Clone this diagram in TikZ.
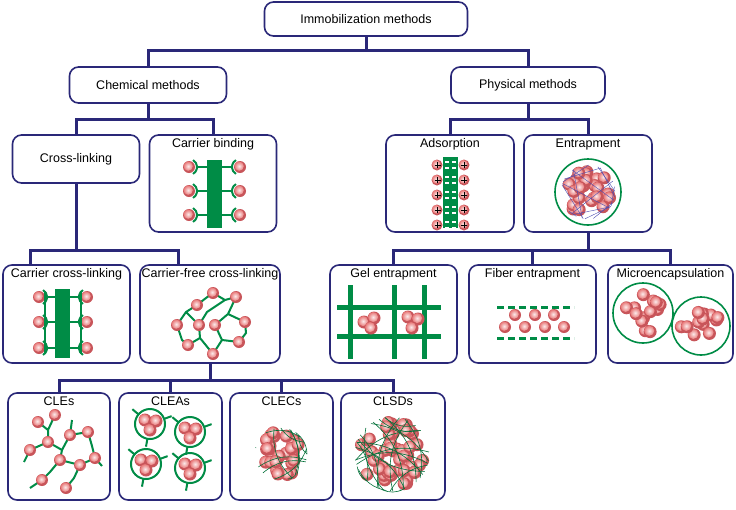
\documentclass[tikz,border=0pt]{standalone}
\usepackage{fontspec}
\setmainfont{Liberation Sans}
\usetikzlibrary{positioning,calc}
\definecolor{navy}{RGB}{42,40,120}
\definecolor{grn}{RGB}{0,140,70}
\definecolor{enzpink}{RGB}{232,120,120}
\definecolor{enzdark}{RGB}{200,85,90}
\newcommand\enzyme[2][6pt]{\fill[enzdark] #2 circle (#1);
    \shade[inner color=white!85!enzpink,outer color=enzpink] #2 ++(135:0.2*#1) circle (0.78*#1);}
% cup opening to the right / left, stem out to #3
\newcommand\cupR[3]{\draw[link] (#1,#2) ++(-60:8pt) arc (-60:60:8pt); \draw[link] (#1,#2) ++(8pt,0) -- (#3,#2);}
\newcommand\cupL[3]{\draw[link] (#1,#2) ++(120:8pt) arc (120:240:8pt); \draw[link] (#1,#2) ++(-8pt,0) -- (#3,#2);}
\begin{document}
\begin{tikzpicture}[x=1pt,y=-1pt,font=\fontsize{12.5}{14}\selectfont,
    box/.style={draw=navy,line width=1.6pt,rounded corners=9pt,fill=white},
    pic/.style={box,label={[anchor=north,inner sep=4pt]north:#1}},
    tree/.style={draw=navy,line width=3pt},
    link/.style={draw=grn,line width=2pt},
    fine/.style={draw=grn!80!black,line width=0.6pt}]
    \useasboundingbox (0,0) rectangle (736,509);

    % boxes
    \node [box,minimum width=203pt,minimum height=34pt] (imm) at (366,19) {Immobilization methods};
    \node [box,minimum width=157pt,minimum height=36pt] (chem) at (148,85) {Chemical methods};
    \node [box,minimum width=154pt,minimum height=36pt] (phys) at (528,85) {Physical methods};
    \node [box,minimum width=127pt,minimum height=48pt] (cross) at (76,159) {Cross-linking};
    \node [pic=Carrier binding,minimum width=127pt,minimum height=97pt] (bind) at (213,183.5) {};
    \node [pic=Adsorption,minimum width=128pt,minimum height=97pt] (ads) at (450,183.5) {};
    \node [pic=Entrapment,minimum width=128pt,minimum height=97pt] (ent) at (588,183.5) {};
    \node [pic=Carrier cross-linking,minimum width=127pt,minimum height=98pt] (ccl) at (66.5,314) {};
    \node [pic=Carrier-free cross-linking,minimum width=140pt,minimum height=98pt] (cfcl) at (210,314) {};
    \node [pic=Gel entrapment,minimum width=127pt,minimum height=98pt] (gel) at (393.5,314) {};
    \node [pic=Fiber entrapment,minimum width=127pt,minimum height=98pt] (fib) at (532.5,314) {};
    \node [pic=Microencapsulation,minimum width=125pt,minimum height=98pt] (mic) at (670.5,314) {};
    \node [pic=CLEs,minimum width=102pt,minimum height=107pt] (cles) at (59,446.5) {};
    \node [pic=CLEAs,minimum width=103pt,minimum height=107pt] (cleas) at (170.5,446.5) {};
    \node [pic=CLECs,minimum width=103pt,minimum height=107pt] (clecs) at (281.5,446.5) {};
    \node [pic=CLSDs,minimum width=104pt,minimum height=107pt] (clsds) at (393,446.5) {};

    % tree
    \draw [tree] (imm.south) -- ++(0,14) -| (chem.north);
    \draw [tree] (imm.south) -- ++(0,14) -| (phys.north);
    \draw [tree] (chem.south) -- ++(0,16) -| (cross.north);
    \draw [tree] (chem.south) -- ++(0,16) -| (bind.north);
    \draw [tree] (phys.south) -- ++(0,16) -| (ads.north);
    \draw [tree] (phys.south) -- ++(0,16) -| (ent.north);
    \draw [tree] (cross.south) -- ++(0,67) -| ([xshift=-36pt]ccl.north);
    \draw [tree] (cross.south) -- ++(0,67) -| ([xshift=-32pt]cfcl.north);
    \draw [tree] (ent.south) -- ++(0,18) -| (gel.north);
    \draw [tree] (ent.south) -- ++(0,18) -| (fib.north);
    \draw [tree] (ent.south) -- ++(0,18) -| (mic.north);
    \foreach \n in {cles,cleas,clecs,clsds}
        \draw [tree] (cfcl.south) -- ++(0,17) -| (\n.north);

    % carrier binding
    \fill [grn] (207,160) rectangle (222,228);
    \foreach \y in {167,191,215} {
        \cupR{189}{\y}{207} \cupL{240}{\y}{222}
        \enzyme{(189,\y)} \enzyme{(240,\y)}
    }

    % carrier cross-linking
    \fill [grn] (55,289) rectangle (70,358);
    \foreach \y in {297,322,348} {
        \cupR{39}{\y}{55} \cupL{87}{\y}{70}
        \enzyme{(39,\y)} \enzyme{(87,\y)}
    }
    \draw [link] (45,291) -- (45,354) (81,291) -- (81,354);

    % carrier-free cross-linking
    \draw [link] (197,305) -- (206,298) -- (213,293) (213,293) -- (225,300) -- (236,297)
        (177,325) -- (186,312) -- (197,305) (199,325) -- (207,312) -- (225,300)
        (215,325) -- (228,314) -- (245,322) (177,325) -- (182,340) -- (188,345)
        (188,345) -- (200,338) -- (199,325) (215,325) -- (222,340) -- (239,342)
        (239,342) -- (246,333) -- (245,322) (213,354) -- (222,340)
        (213,354) -- (200,338) (228,314) -- (236,297) (186,312) -- (199,325);
    \foreach \p in {(213,293),(236,297),(197,305),(177,325),(199,325),(215,325),
                    (245,322),(188,345),(239,342),(213,354)}
        {\enzyme{\p}}

    % adsorption
    \fill [grn] (443,157) rectangle (458,228);
    \foreach \y in {165,180,195,210,225} {
        \draw [white,line width=1.3pt] (445,\y-3) -- (449,\y-3) (452,\y-3) -- (456,\y-3)
            (445,\y+3) -- (449,\y+3) (452,\y+3) -- (456,\y+3);
        \enzyme[5.5pt]{(437,\y)} \enzyme[5.5pt]{(464,\y)}
        \draw [line width=0.8pt] (437.5,\y-3) -- (437.5,\y+3) (434.5,\y) -- (440.5,\y)
            (464,\y-3) -- (464,\y+3) (461,\y) -- (467,\y);
    }

    % entrapment
    \draw [grn,line width=1.6pt] (588,192) circle (33pt);
    \pgfmathsetseed{7}
    \foreach \i in {1,...,24} {
        \pgfmathsetmacro\a{rnd*360}\pgfmathsetmacro\r{sqrt(rnd)*23}
        \enzyme[6.5pt]{($(588,192)+(\a:\r pt)$)}
    }
    \foreach \i in {1,...,14} {
        \pgfmathsetmacro\a{rnd*360}\pgfmathsetmacro\b{rnd*360}
        \draw [gray!60!blue,line width=0.4pt] ($(588,192)+(\a:27pt)$) -- ($(588,192)+(\b:27pt)$);
    }

    % gel entrapment
    \draw [grn,line width=5pt] (350,285) -- (350,359) (394,285) -- (394,359) (424,285) -- (424,359)
        (337,307) -- (441,307) (337,336) -- (441,336);
    \foreach \p in {(364,322),(374,318),(371,328),(408,317),(418,319),(412,328)}
        {\enzyme[6.5pt]{\p}}

    % fiber entrapment
    \draw [grn,line width=3pt,dash pattern=on 7pt off 4pt] (497,307) -- (574,307) (497,338) -- (574,338);
    \foreach \p in {(505,327),(515,315),(525,327),(535,315),(545,327),(554,315),(564,327)}
        {\enzyme{\p}}

    % microencapsulation
    \draw [grn,line width=1.6pt] (643,313) circle (30pt) (701,326) circle (29pt);
    \foreach \cx/\cy in {643/313,701/326}
        \foreach \i in {1,...,13} {
            \pgfmathsetmacro\a{rnd*360}\pgfmathsetmacro\r{sqrt(rnd)*20}
            \enzyme[6.5pt]{($(\cx,\cy)+(\a:\r pt)$)}
        }

    % CLEs
    \begin{scope}[yshift=-10pt]
    \draw [link] (38,412) -- (48,420) -- (55,405) (48,420) -- (48,432) (48,432) -- (30,440)
        (48,432) -- (62,440) -- (70,425) (70,425) -- (88,422) (62,440) -- (60,450)
        (60,450) -- (80,455) (80,455) -- (95,448) (60,450) -- (50,462) -- (42,470)
        (80,455) -- (74,468) -- (66,478) (88,422) -- (92,436) -- (95,448)
        (30,440) -- (24,452) (70,425) -- (72,410) (95,448) -- (102,456) (42,470) -- (30,478);
    \foreach \p in {(38,412),(55,405),(70,425),(48,432),(30,440),(88,422),(60,450),
                    (80,455),(42,470),(95,448),(66,478)}
        {\enzyme{\p}}
    \end{scope}

    % CLEAs
    \foreach \cx/\cy in {150/424,190/432,146/464,190/468} {
        \draw [link] (\cx,\cy) circle (15pt);
        \draw [link] (\cx,\cy) ++(20:15pt) -- ++(20:8pt) (\cx,\cy) ++(140:15pt) -- ++(140:8pt)
            (\cx,\cy) ++(260:15pt) -- ++(260:8pt);
        \enzyme[6.5pt]{(\cx-5,\cy-4)} \enzyme[6.5pt]{(\cx+6,\cy-3)} \enzyme[6.5pt]{(\cx,\cy+6)}
    }

    % CLECs
    \foreach \i in {1,...,30} {
        \pgfmathsetmacro\a{rnd*360}\pgfmathsetmacro\r{sqrt(rnd)*23}
        \enzyme[6.5pt]{($(281,454)+(\a:\r pt)$)}
    }
    \foreach \i in {1,...,12} {
        \pgfmathsetmacro\a{rnd*360}\pgfmathsetmacro\b{rnd*360}
        \draw [fine] ($(281,454)+(\a:26pt)$) to [bend left=25] ($(281,454)+(\b:26pt)$);
    }

    % CLSDs
    \foreach \i in {1,...,50} {
        \pgfmathsetmacro\a{rnd*360}\pgfmathsetmacro\r{sqrt(rnd)*33}
        \enzyme[6.5pt]{($(392,454)+(\a:\r pt)$)}
    }
    \foreach \i in {1,...,22} {
        \pgfmathsetmacro\a{rnd*360}\pgfmathsetmacro\b{rnd*360}
        \draw [fine] ($(392,454)+(\a:37pt)$) to [bend left=25] ($(392,454)+(\b:37pt)$);
    }
\end{tikzpicture}
\end{document}
